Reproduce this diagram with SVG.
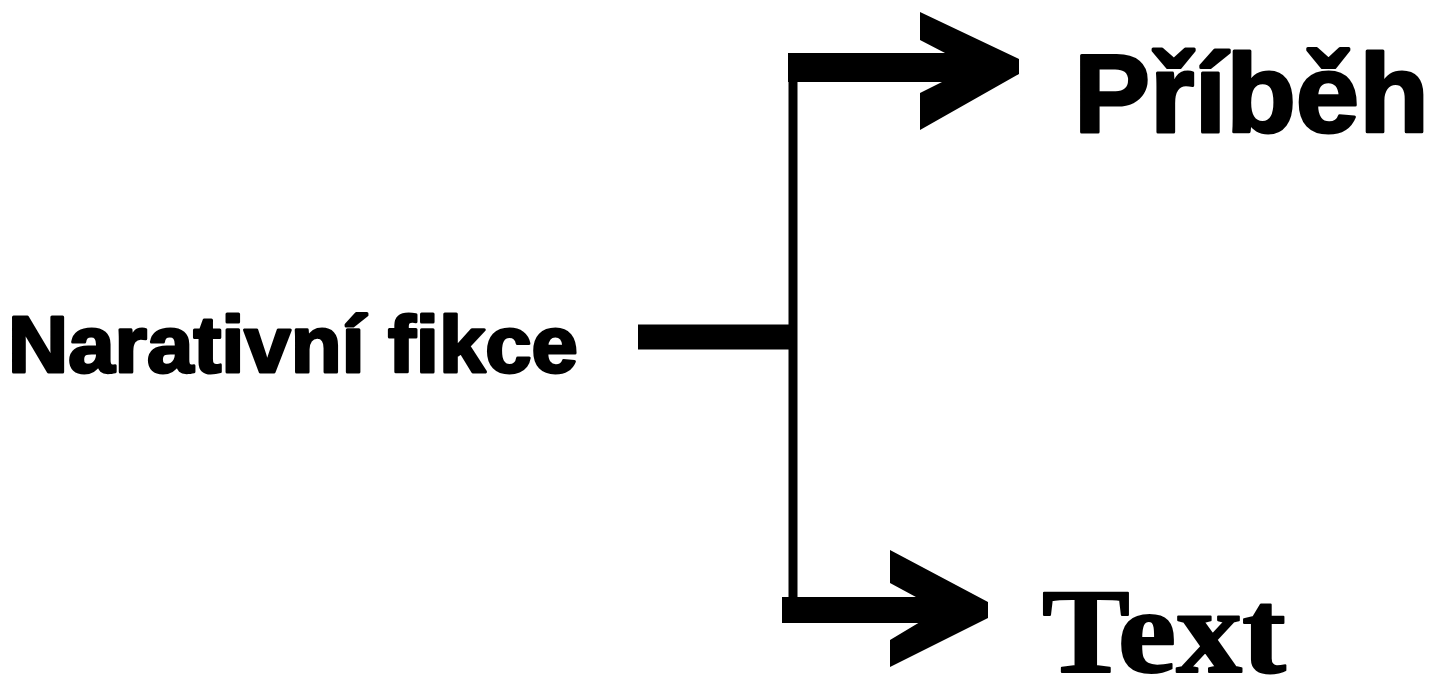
<svg xmlns="http://www.w3.org/2000/svg" width="1441" height="686" viewBox="0 0 1441 686">
<style>
.sans{font-family:"Liberation Sans",Arial,sans-serif;font-weight:bold;fill:#000;stroke:#000;stroke-linejoin:round}
.serif{font-family:"Liberation Serif","Times New Roman",serif;font-weight:bold;fill:#000;stroke:#000;stroke-linejoin:round}
.line{fill:none;stroke:#000;stroke-linejoin:miter;stroke-linecap:butt}
</style>
<rect width="1441" height="686" fill="#fff"/>
<g id="connectors">
<line class="line" x1="638" y1="337" x2="793" y2="337" stroke-width="25"/>
<line class="line" x1="793" y1="53" x2="793" y2="610" stroke-width="9"/>
<line class="line" x1="788" y1="67.500" x2="1000" y2="67.500" stroke-width="29"/>
<line class="line" x1="782" y1="610" x2="975" y2="610" stroke-width="26"/>
<polygon points="920,12 1019,59 1019,74 920,130 920,93 972,67 920,40" fill="#000"/>
<polygon points="890,550 988,602 988,618 890,667 890,640 940,610 890,583" fill="#000"/>
</g>
<g id="node-narativni">
<text class="sans" x="8" y="372" font-size="80" stroke-width="3" textLength="570" lengthAdjust="spacingAndGlyphs">Narativní fikce</text>
</g>
<g id="node-pribeh">
<text class="sans" x="1074" y="132" font-size="111" stroke-width="3" textLength="355" lengthAdjust="spacingAndGlyphs">Příběh</text>
</g>
<g id="node-text">
<text class="serif" x="1042" y="672" font-size="120" stroke-width="2" textLength="244" lengthAdjust="spacingAndGlyphs">Text</text>
</g>
</svg>
